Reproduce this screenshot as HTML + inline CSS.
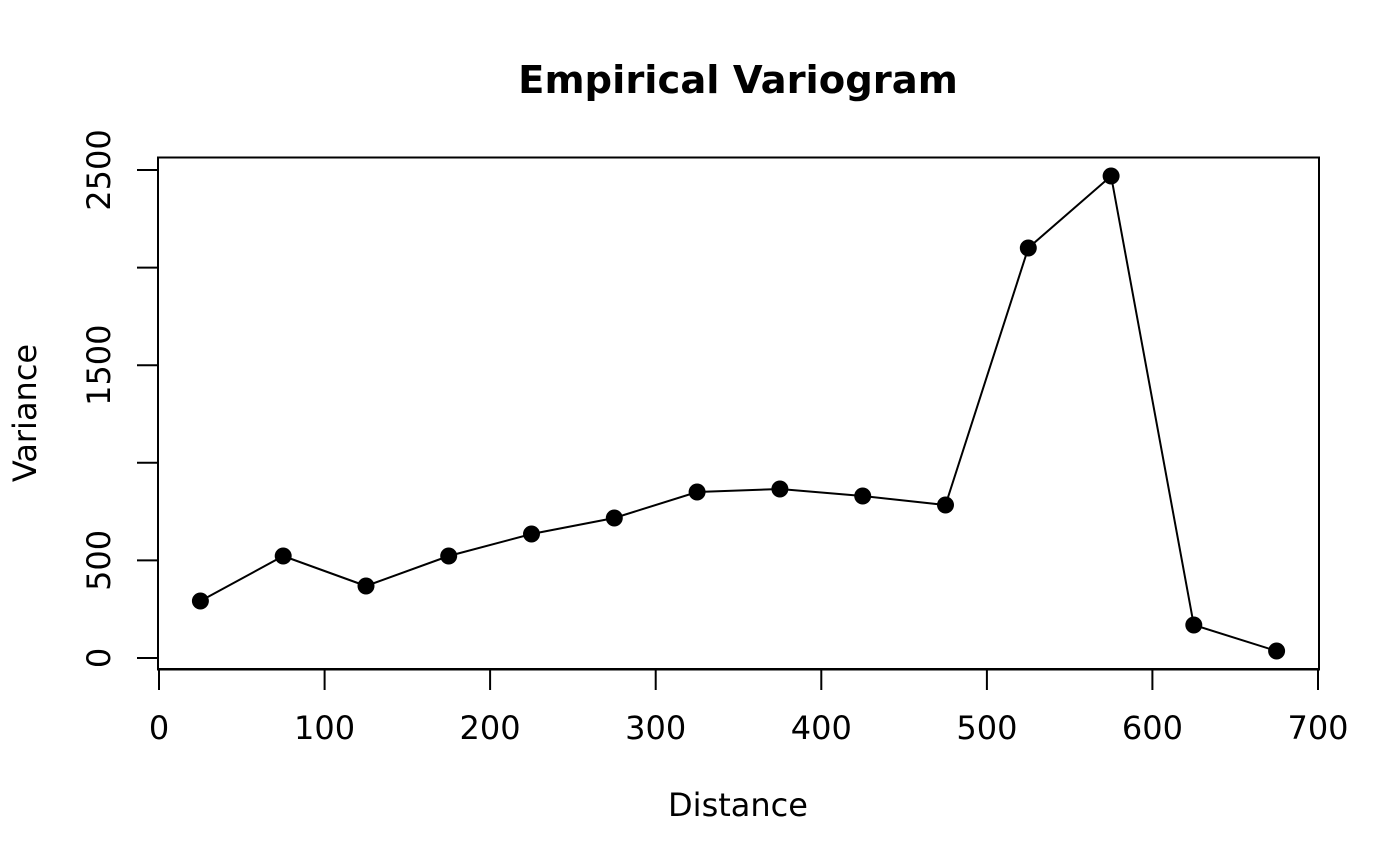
<!DOCTYPE html>
<html><head><meta charset="utf-8"><style>body{margin:0;background:#fff}svg{display:block}</style></head>
<body>
<svg width="1400" height="866" xmlns="http://www.w3.org/2000/svg" font-family="DejaVu Sans, Liberation Sans, sans-serif">
<text x="738" y="93" font-size="38.5" font-weight="bold" text-anchor="middle">Empirical Variogram</text>
<rect x="158" y="157.5" width="1161" height="512" fill="none" stroke="#000" stroke-width="2"/>
<g stroke="#000" stroke-width="2">
<line x1="159" y1="669" x2="1318" y2="669"/>
<line x1="159" y1="669" x2="159" y2="690"/><line x1="324.6" y1="669" x2="324.6" y2="690"/>
<line x1="490.1" y1="669" x2="490.1" y2="690"/><line x1="655.7" y1="669" x2="655.7" y2="690"/>
<line x1="821.3" y1="669" x2="821.3" y2="690"/><line x1="986.9" y1="669" x2="986.9" y2="690"/>
<line x1="1152.4" y1="669" x2="1152.4" y2="690"/><line x1="1318" y1="669" x2="1318" y2="690"/>
<line x1="158" y1="170" x2="158" y2="658"/>
<line x1="137" y1="658" x2="158" y2="658"/><line x1="137" y1="560.4" x2="158" y2="560.4"/>
<line x1="137" y1="462.8" x2="158" y2="462.8"/><line x1="137" y1="365.2" x2="158" y2="365.2"/>
<line x1="137" y1="267.6" x2="158" y2="267.6"/><line x1="137" y1="170" x2="158" y2="170"/>
</g>
<g font-size="32" text-anchor="middle">
<text x="159" y="739">0</text><text x="324.6" y="739">100</text><text x="490.1" y="739">200</text>
<text x="655.7" y="739">300</text><text x="821.3" y="739">400</text><text x="986.9" y="739">500</text>
<text x="1152.4" y="739">600</text><text x="1318" y="739">700</text>
<text transform="translate(110,658) rotate(-90)">0</text>
<text transform="translate(110,560.4) rotate(-90)">500</text>
<text transform="translate(110,365.2) rotate(-90)">1500</text>
<text transform="translate(110,170) rotate(-90)">2500</text>
<text x="738" y="816">Distance</text>
<text transform="translate(36,413) rotate(-90)">Variance</text>
</g>
<polyline fill="none" stroke="#000" stroke-width="2" points="200.4,601 283.2,556 366,586 448.7,556 531.5,534 614.3,518 697.1,492 779.9,489 862.7,496 945.5,505 1028.3,248 1111.1,176 1193.8,625 1276.6,651"/>
<g fill="#000">
<circle cx="200.4" cy="601" r="8.5"/><circle cx="283.2" cy="556" r="8.5"/><circle cx="366" cy="586" r="8.5"/>
<circle cx="448.7" cy="556" r="8.5"/><circle cx="531.5" cy="534" r="8.5"/><circle cx="614.3" cy="518" r="8.5"/>
<circle cx="697.1" cy="492" r="8.5"/><circle cx="779.9" cy="489" r="8.5"/><circle cx="862.7" cy="496" r="8.5"/>
<circle cx="945.5" cy="505" r="8.5"/><circle cx="1028.3" cy="248" r="8.5"/><circle cx="1111.1" cy="176" r="8.5"/>
<circle cx="1193.8" cy="625" r="8.5"/><circle cx="1276.6" cy="651" r="8.5"/>
</g>
</svg>
</body></html>
